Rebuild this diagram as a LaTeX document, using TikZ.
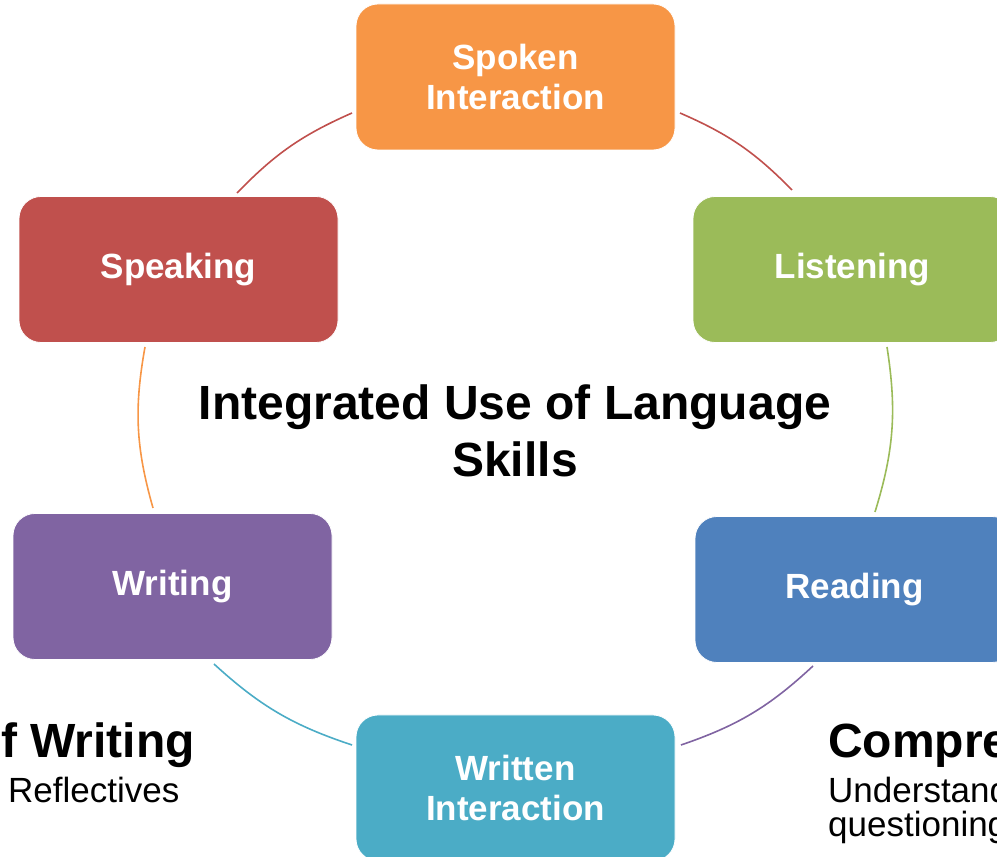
\documentclass[tikz,border=0pt]{standalone}
\usepackage{fontspec}
\setmainfont{Liberation Sans}
\usepackage{tikz}
\usetikzlibrary{positioning}

\definecolor{spokencol}{HTML}{F79646}
\definecolor{listencol}{HTML}{9BBB59}
\definecolor{readcol}{HTML}{4F81BD}
\definecolor{writtencol}{HTML}{4BACC6}
\definecolor{writecol}{HTML}{8064A2}
\definecolor{speakcol}{HTML}{C0504D}

\tikzset{
  skillbox/.style={rounded corners=22pt, draw=white, line width=0.8pt, text=white,
    minimum width=319pt, minimum height=146pt, align=center,
    font=\fontsize{35}{40}\selectfont\bfseries},
  ring/.style={line width=1.6pt},
  bigtext/.style={font=\fontsize{48}{57}\selectfont\bfseries},
  bodytext/.style={font=\fontsize{35}{34}\selectfont, inner sep=0pt}
}

\begin{document}
\begin{tikzpicture}[x=1pt, y=1pt]
          \useasboundingbox (0,0) rectangle (997,857);
          \clip (0,0) rectangle (997,857);

          \node [skillbox, fill=spokencol] (spoken) at (515.5,780) {Spoken\\Interaction}; % top box
          \node [skillbox, fill=listencol] (listening) at (852.5,587.5) {Listening};
          \node [skillbox, fill=readcol] (reading) at (854.5,267.5) {Reading};
          \node [skillbox, fill=writtencol] (written) at (515.5,69) {Written\\Interaction};
          \node [skillbox, fill=writecol] (writing) at (172.5,270.5) {Writing};
          \node [skillbox, fill=speakcol] (speaking) at (178.5,587.5) {Speaking};

          \node [bigtext, align=center] (title) at (515,426.5) {Integrated Use of Language\\Skills};

          % ends of the ring segments
          \coordinate (tlA) at (237,664);  \coordinate (tlB) at (352,744);
          \coordinate (trA) at (680,744);  \coordinate (trB) at (792,667);
          \coordinate (rA) at (887,510);   \coordinate (rB) at (875,345);
          \coordinate (brA) at (813,191);  \coordinate (brB) at (681,112);
          \coordinate (blA) at (352,112);  \coordinate (blB) at (214,193);
          \coordinate (lA) at (153,349);   \coordinate (lB) at (145,510);

          \draw [ring, speakcol] (tlA) to [bend left=11] (tlB);
          \draw [ring, speakcol] (trA) to [bend left=11] (trB);
          \draw [ring, listencol] (rA) to [bend left=13] (rB);
          \draw [ring, writecol] (brA) to [bend left=12] (brB);
          \draw [ring, writtencol] (blA) to [bend left=12] (blB);
          \draw [ring, spokencol] (lA) to [bend left=13] (lB);

          % cut-off texts at the bottom
          \node [bigtext, inner sep=0pt, anchor=base east] (usew) at (195,99) {of Writing};
          \node [bodytext, anchor=base west] (refl) at (8,54) {Reflectives};
          \node [bigtext, inner sep=0pt, anchor=base west] (compr) at (828,99) {Comprehension};
          \node [bodytext, anchor=base west] (under) at (828,54) {Understanding};
          \node [bodytext, anchor=base west] (quest) at (828,20) {questioning};
\end{tikzpicture}
\end{document}
